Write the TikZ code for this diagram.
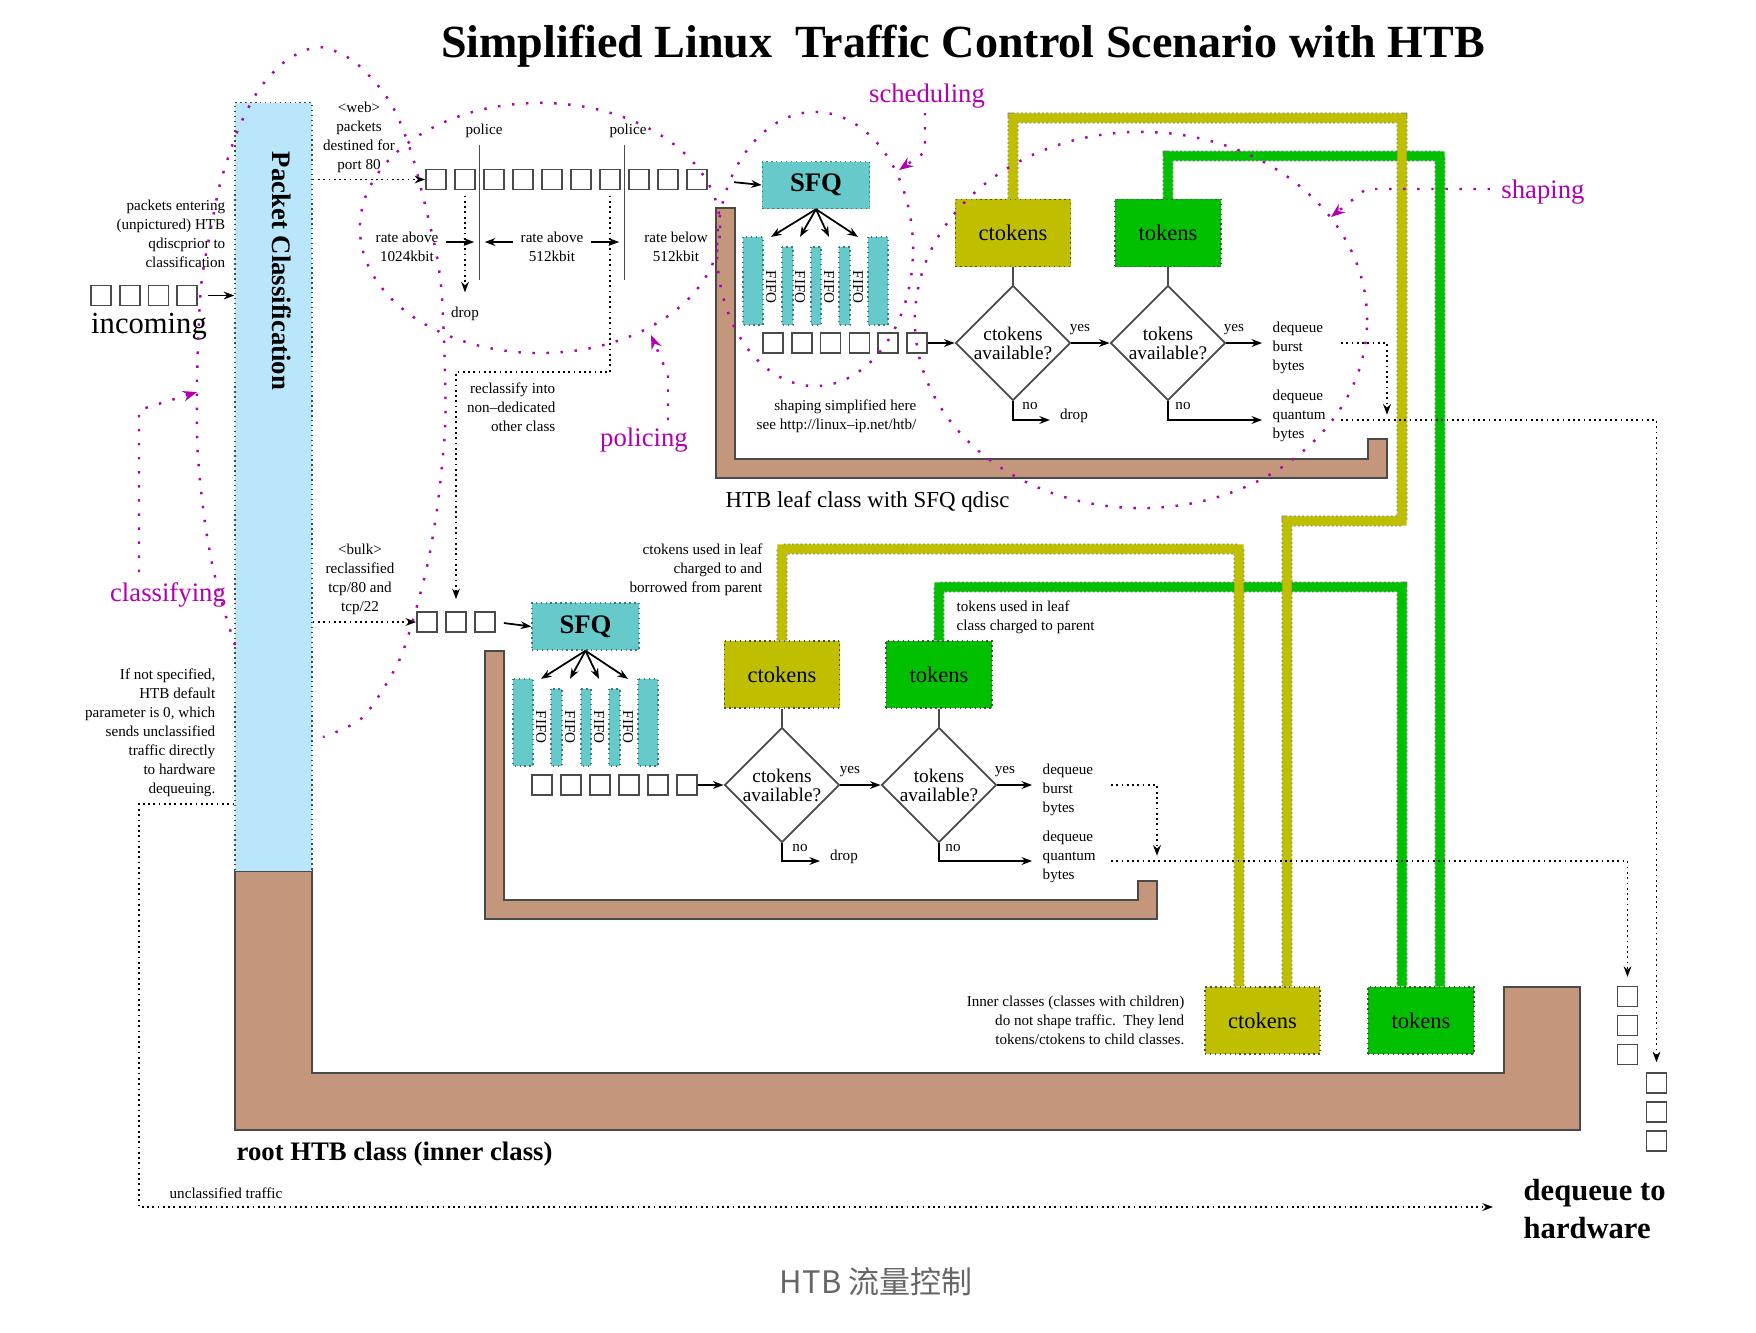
\documentclass[tikz,border=0pt]{standalone}
\usepackage{fontspec}
\setmainfont{Liberation Serif}
\newfontfamily\cjkfont{Noto Sans CJK SC}
\usetikzlibrary{arrows.meta,positioning,shapes.geometric,calc}
\definecolor{tcBlue}{HTML}{B9E6FB}
\definecolor{tcTeal}{HTML}{66CACA}
\definecolor{tcOlive}{HTML}{BFBF00}
\definecolor{tcGreen}{HTML}{00C000}
\definecolor{tcBrown}{HTML}{C4967C}
\definecolor{tcMag}{HTML}{B000B0}
\definecolor{tcLine}{HTML}{4A4A4A}
\newcommand{\annfont}{\fontsize{4.3}{5.4}\selectfont}
\newcommand{\dmdfont}{\fontsize{5.5}{5.4}\selectfont}
\newcommand{\tokfont}{\fontsize{6.4}{7.7}\selectfont}
\newcommand{\midfont}{\fontsize{6.5}{7.8}\selectfont}
\newcommand{\lblfont}{\fontsize{7.6}{9.1}\selectfont}
\newcommand{\bigfont}{\fontsize{8.7}{10.8}\selectfont}

\begin{document}
\begin{tikzpicture}[x=0.01cm, y=-0.01cm,
  pkt/.style={draw=tcLine, line width=0.5pt, minimum size=0.2cm, inner sep=0},
  ann/.style={font=\annfont, inner sep=0},
  arr/.style={-{Stealth[length=3pt,width=2.2pt]}, line width=0.5pt},
  dotarr/.style={densely dotted, line width=0.5pt, -{Stealth[length=3pt,width=2.2pt]}},
  brownL/.style={fill=tcBrown, draw=tcLine, line width=0.6pt},
  sfqbox/.style={fill=tcTeal, draw=tcTeal!60!black, densely dotted, minimum width=1.07cm, minimum height=0.47cm, inner sep=0, font=\lblfont\bfseries},
  fifo/.style={fill=tcTeal, draw=tcTeal!60!black, densely dotted, line width=0.4pt},
  ctok/.style={fill=tcOlive, draw=black!70, densely dotted, minimum width=1.15cm, minimum height=0.67cm, inner sep=0, font=\tokfont},
  tok/.style={fill=tcGreen, draw=black!70, densely dotted, minimum width=1.06cm, minimum height=0.67cm, inner sep=0, font=\tokfont},
  dmd/.style={diamond, draw=tcLine, line width=0.5pt, aspect=1, minimum width=1.15cm, minimum height=1.15cm, inner sep=0, align=center, font=\dmdfont},
  pipeedge/.style={line width=3.1pt, black!55, dash pattern=on 0.6pt off 0.6pt},
  pipefill/.style={line width=2.6pt, #1},
  polline/.style={line width=0.4pt, tcLine},
  magdot/.style={tcMag, line width=0.7pt, dash pattern=on 0.7pt off 3.3pt},
  magarr/.style={magdot, -{Stealth[length=4pt,width=3pt]}},
  maglbl/.style={font=\lblfont, text=tcMag, inner sep=0}]
  \useasboundingbox (0,0) rectangle (1756,1332);

  % title and caption
  \node[font=\fontsize{13.1}{16}\selectfont\bfseries, anchor=base] (ttl) at (963,57) {Simplified Linux\ \ Traffic Control Scenario with HTB};
  \node[font={\cjkfont\fontsize{8.8}{10}\selectfont}, text=black!60] (cap) at (876,1282) {HTB 流量控制};

  % class outlines
  \draw[brownL] (235,871) -- (312,871) -- (312,1073) -- (1504,1073) -- (1504,987) -- (1580,987) -- (1580,1130) -- (235,1130) -- cycle;
  \draw[brownL] (716,208) -- (735,208) -- (735,459) -- (1368,459) -- (1368,439) -- (1387,439) -- (1387,478) -- (716,478) -- cycle;
  \draw[brownL] (485,651) -- (504,651) -- (504,900) -- (1138,900) -- (1138,881) -- (1157,881) -- (1157,919) -- (485,919) -- cycle;

  % packet classification
  \node[fill=tcBlue, draw=tcLine, densely dotted, minimum width=0.77cm, minimum height=7.68cm, inner sep=0] (pc) at (273.5,487) {};
  \node[rotate=-90, font=\lblfont\bfseries] (pcTxt) at (282,271) {Packet Classification};

  % token boxes
  \node[ctok] (ctA) at (1013,233) {ctokens};
  \node[tok] (tA) at (1168,233) {tokens};
  \node[ctok] (ctL) at (782,674.5) {ctokens};
  \node[tok] (tL) at (939,674.5) {tokens};
  \node[ctok] (rcA) at (1262.5,1020.5) {ctokens};
  \node[tok] (rtA) at (1421,1020.5) {tokens};

  % borrowing pipes
  \draw[pipeedge] (tA.north) |- (1440,156) -- ([xshift=0.19cm]rtA.north);
  \draw[pipefill=tcGreen] (tA.north) |- (1440,156) -- ([xshift=0.19cm]rtA.north);
  \draw[pipeedge] (tL.north) |- (1402,587) -- ([xshift=-0.19cm]rtA.north);
  \draw[pipefill=tcGreen] (tL.north) |- (1402,587) -- ([xshift=-0.19cm]rtA.north);
  \draw[pipeedge] (ctA.north) |- (1402,118) |- (1287,521) -- ([xshift=0.245cm]rcA.north);
  \draw[pipefill=tcOlive] (ctA.north) |- (1402,118) |- (1287,521) -- ([xshift=0.245cm]rcA.north);
  \draw[pipeedge] (ctL.north) |- (1239,549) -- ([xshift=-0.235cm]rcA.north);
  \draw[pipefill=tcOlive] (ctL.north) |- (1239,549) -- ([xshift=-0.235cm]rcA.north);

  % packet queues
  \foreach \i in {0,...,3} \node[pkt] (in\i) at ({101+28.7*\i},295.5) {};
  \foreach \i in {0,...,9} \node[pkt] (wq\i) at ({436+29*\i},179.5) {};
  \foreach \i in {0,...,5} \node[pkt] (ua\i) at ({773+28.8*\i},343) {};
  \foreach \i in {0,...,2} \node[pkt] (bq\i) at ({427+29*\i},622) {};
  \foreach \i in {0,...,5} \node[pkt] (la\i) at ({542+29*\i},785) {};
  \foreach \i in {0,...,2} \node[pkt] (hwA\i) at (1627.5,{996.5+29*\i}) {};
  \foreach \i in {0,...,2} \node[pkt] (hwB\i) at (1656.5,{1083+29*\i}) {};

  % SFQ and FIFOs
  \node[sfqbox] (sfqA) at (816,185) {SFQ};
  \node[sfqbox] (sfqL) at (585.5,626.5) {SFQ};
  \foreach \xa/\xb/\yt in {743/763/237, 782/793/247, 811/821/247, 839/850/247, 868/888/237}
    \draw[fifo] (\xa,\yt) rectangle (\xb,325);
  \foreach \xa/\xb/\yt in {513/533/679, 551/562/689, 581/591/689, 609/620/689, 638/658/679}
    \draw[fifo] (\xa,\yt) rectangle (\xb,766);
  \foreach \x [count=\k] in {771,800,829,858} {
    \node[ann, rotate=-90] (fa\k) at (\x,287) {FIFO};
    \draw[arr] (sfqA.south) -- ([yshift=0.33cm]fa\k.west);
  }
  \foreach \x [count=\k] in {541,570,599,628} {
    \node[ann, rotate=-90] (fl\k) at (\x,727) {FIFO};
    \draw[arr] (sfqL.south) -- ([yshift=0.31cm]fl\k.west);
  }

  % decisions
  \node[dmd] (dcA) at (1013,343) {ctokens\\available?};
  \node[dmd] (dtA) at (1168,343) {tokens\\available?};
  \node[dmd] (dcL) at (782,785) {ctokens\\available?};
  \node[dmd] (dtL) at (939,785) {tokens\\available?};

  % texts
  \node[ann, align=right, anchor=east] (entTxt) at (226,233.5) {packets entering\\(unpictured) HTB\\qdiscprior to\\classification};
  \node[font=\bigfont, anchor=base, inner sep=0] (inTxt) at (149,333) {incoming};
  \node[ann, align=center] (webTxt) at (359,137) {\textless web\textgreater\\packets\\destined for\\port 80};
  \node[ann] (pol1) at (484,131) {police};
  \node[ann] (pol2) at (628,131) {police};
  \node[ann, align=center] (rt1) at (407,246.5) {rate above\\1024kbit};
  \node[ann, align=center] (rt2) at (552,246.5) {rate above\\512kbit};
  \node[ann, align=center] (rt3) at (676,246.5) {rate below\\512kbit};
  \node[ann] (drp0) at (465,314) {drop};
  \node[ann, align=right, anchor=east] (rcTxt) at (556,407) {reclassify into\\non--dedicated\\other class};
  \node[ann, align=center] (bulkTxt) at (360,579) {\textless bulk\textgreater\\reclassified\\tcp/80 and\\tcp/22};
  \node[ann, align=right, anchor=east] (dfTxt) at (216,732.5) {If not specified,\\HTB default\\parameter is 0, which\\sends unclassified\\traffic directly\\to hardware\\dequeuing.};
  \node[ann] (ucTxt) at (226,1193) {unclassified traffic};
  \node[ann, align=right, anchor=east] (simpTxt) at (917,416.5) {shaping simplified here\\see http://linux--ip.net/htb/};
  \node[ann, align=right, anchor=east] (cuTxt) at (763,569.5) {ctokens used in leaf\\charged to and\\borrowed from parent};
  \node[ann, align=left, anchor=west] (tuTxt) at (956,617.5) {tokens used in leaf\\class charged to parent};
  \node[ann, align=right, anchor=east] (icTxt) at (1185,1020) {Inner classes (classes with children)\\do not shape traffic.\ \ They lend\\tokens/ctokens to child classes.};
  \node[font=\midfont, anchor=base west, inner sep=0] (leafTxt) at (725,507) {HTB leaf class with SFQ qdisc};
  \node[font=\lblfont\bfseries, anchor=base west, inner sep=0] (rootTxt) at (236,1160) {root HTB class (inner class)};
  \node[font=\bigfont\bfseries, align=left, anchor=west, inner sep=0] (hwTxt) at (1523,1209) {dequeue to\\hardware};

  \node[ann] (yA1) at (1080,330) {yes};
  \node[ann] (yA2) at (1234,330) {yes};
  \node[ann] (nA1) at (1030,406) {no};
  \node[ann] (nA2) at (1183,406) {no};
  \node[ann] (dropA) at (1074,416) {drop};
  \node[ann, align=left, anchor=west] (bbA) at (1272,348) {dequeue\\burst\\bytes};
  \node[ann, align=left, anchor=west] (qbA) at (1272,416) {dequeue\\quantum\\bytes};
  \node[ann] (yL1) at (850,772) {yes};
  \node[ann] (yL2) at (1005,772) {yes};
  \node[ann] (nL1) at (800,848) {no};
  \node[ann] (nL2) at (953,848) {no};
  \node[ann] (dropL) at (844,857) {drop};
  \node[ann, align=left, anchor=west] (bbL) at (1042,790) {dequeue\\burst\\bytes};
  \node[ann, align=left, anchor=west] (qbL) at (1042,857) {dequeue\\quantum\\bytes};

  % magenta labels
  \node[maglbl] (clsTxt) at (168,595) {classifying};
  \node[maglbl] (polTxt) at (644,440) {policing};
  \node[maglbl] (schTxt) at (927,96) {scheduling};
  \node[maglbl] (shpTxt) at (1543,192) {shaping};

  % classification and policing flow
  \draw[arr, shorten <=2.8pt] (in3.east) -- (pc.west |- in3.east);
  \draw[dotarr] (pc.east |- wq0.west) -- (wq0.west);
  \draw[dotarr] (pc.east |- bq0.west) -- (bq0.west);
  \coordinate (plA) at ($(wq1.east)!0.5!(wq2.west)$);
  \coordinate (plB) at ($(wq6.east)!0.5!(wq7.west)$);
  \draw[polline] (plA |- 0,145) -- (plA |- 0,280);
  \draw[polline] (plB |- 0,145) -- (plB |- 0,280);
  \draw[arr, shorten <=2pt, shorten >=1.5pt] (rt1.east |- 0,242) -- (plA |- 0,242);
  \draw[arr, shorten <=2pt, shorten >=1.5pt] (rt2.west |- 0,242) -- (plA |- 0,242);
  \draw[arr, shorten <=2pt, shorten >=1.5pt] (rt2.east |- 0,242) -- (plB |- 0,242);
  \draw[dotarr, shorten <=1.5pt, shorten >=4pt] (wq1.south) -- (drp0.north);
  \coordinate (rcBend) at (456,372);
  \draw[dotarr, shorten <=1.5pt, shorten >=3.4pt] (wq6.south) |- (rcBend) -- (bq1.north);
  \draw[arr, shorten <=7.5pt] (wq9.east) -- (sfqA.west);
  \draw[arr, shorten <=2.3pt] (bq2.east) -- (sfqL.west);

  % upper leaf decisions
  \draw[arr] (ua5.east) -- (dcA.west);
  \draw[line width=0.5pt, tcLine] (ctA.south) -- (dcA.north);
  \draw[line width=0.5pt, tcLine] (tA.south) -- (dtA.north);
  \draw[arr] (dcA.east) -- (dtA.west);
  \draw[arr, shorten >=2.8pt] (dtA.east) -- (bbA.west |- dtA.east);
  \coordinate (noEndA) at (1050,420);
  \draw[arr] (dcA.south) |- (noEndA);
  \draw[arr, shorten >=2.8pt] (dtA.south) |- (qbA.west |- 0,420);
  \coordinate (bxA) at (1341,343);
  \coordinate (qxA) at (1341,420);
  \draw[dotarr, shorten >=1.5pt] (bxA) -| (1387,420);
  \draw[dotarr, shorten >=2.8pt] (qxA) -| (hwB0.north);

  % lower leaf decisions
  \draw[arr] (la5.east) -- (dcL.west);
  \draw[line width=0.5pt, tcLine] (ctL.south) -- (dcL.north);
  \draw[line width=0.5pt, tcLine] (tL.south) -- (dtL.north);
  \draw[arr] (dcL.east) -- (dtL.west);
  \draw[arr, shorten >=2.8pt] (dtL.east) -- (bbL.west |- dtL.east);
  \coordinate (noEndL) at (820,861);
  \draw[arr] (dcL.south) |- (noEndL);
  \draw[arr, shorten >=2.8pt] (dtL.south) |- (qbL.west |- 0,861);
  \coordinate (bxL) at (1111,785);
  \coordinate (qxL) at (1111,861);
  \draw[dotarr, shorten >=1.5pt] (bxL) -| (1157,861);
  \draw[dotarr, shorten >=2.5pt] (qxL) -| (hwA0.north);

  % unclassified traffic
  \coordinate (ucA) at (139,1207);
  \coordinate (ucB) at (1493,1207);
  \draw[dotarr] (pc.west |- 0,804) -| (ucA) -- (ucB);

  % magenta annotations
  \draw[magdot] plot[smooth] coordinates {(235,645) (224,610) (213,568) (205,523) (199,470) (197,432) (197,380) (199,320) (202,278) (210,233) (219,188) (228,158) (240,125) (260,88) (287,60) (319,47) (352,60) (380,88) (397,115) (413,158) (428,217) (437,257) (442,297) (445,373) (445,430) (438,502) (428,562) (413,620) (397,665) (363,717) (323,737)};
  \draw[magdot] (540,228) ellipse [x radius=1.8cm, y radius=1.25cm];
  \draw[magdot] (815,249) ellipse [x radius=0.98cm, y radius=1.37cm];
  \draw[magdot] (1141,320) ellipse [x radius=2.26cm, y radius=1.88cm];
  \draw[magarr] (139,572) -- (139,410) -- (197,392);
  \draw[magarr] (668,420) -- (668,375) -- (651,335);
  \draw[magarr] (925,113) -- (925,152) -- (899,170);
  \draw[magarr] (1490,189) -- (1366,189) -- (1331,217);
\end{tikzpicture}
\end{document}
